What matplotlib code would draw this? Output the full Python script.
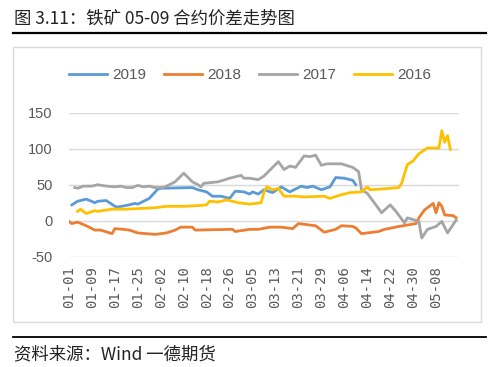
import matplotlib
matplotlib.use('Agg')
import matplotlib.pyplot as plt
from matplotlib.lines import Line2D
from matplotlib.patches import Rectangle

plt.rcParams['font.family'] = ['Noto Sans CJK SC', 'DejaVu Sans']

# ==========================================
# dados (dia = dias desde 01-01, ano bissexto)
# ==========================================
dias_2019 = [1, 3, 6, 9, 10, 13, 16, 17, 21, 23, 24, 27, 28, 31, 32, 43, 45, 48, 50, 53,
             56, 58, 61, 63, 64, 66, 68, 71, 74, 77, 81, 83, 85, 88, 91, 93, 96, 99, 100]
vals_2019 = [22, 27, 30, 25, 27, 28, 20, 19, 22, 24, 23, 29, 31, 44, 45, 46, 43, 40, 34, 34,
             31, 41, 40, 37, 40, 37, 43, 39, 47, 40, 48, 46, 48, 43, 47, 60, 59, 56, 50]

dias_2018 = [0, 1, 3, 6, 9, 11, 15, 16, 19, 21, 24, 30, 34, 37, 39, 43, 44, 57, 58, 63,
             66, 70, 74, 78, 80, 86, 89, 93, 95, 99, 100, 102, 108, 110, 115, 121, 122, 124,
             127, 128, 129, 130, 131, 134, 135]
vals_2018 = [-1, -4, -2, -7, -13, -13, -18, -11, -12, -13, -17, -19, -17, -13, -9, -9, -13, -12, -15, -12,
             -12, -9, -9, -11, -4, -7, -16, -12, -7, -8, -10, -18, -15, -12, -8, -4, 4, 15,
             24, 11, 25, 20, 8, 7, 4]

dias_2017 = [2, 3, 5, 8, 10, 13, 16, 18, 20, 22, 24, 26, 28, 30, 33, 37, 40, 43, 45, 46,
             47, 52, 56, 60, 61, 63, 66, 68, 69, 73, 75, 77, 79, 82, 84, 86, 88, 90, 95, 99,
             101, 102, 104, 107, 109, 112, 114, 117, 118, 122, 123, 125, 128, 130, 132, 135]
vals_2017 = [46, 45, 48, 48, 50, 48, 47, 48, 46, 46, 49, 47, 48, 46, 46, 54, 66, 54, 50, 47,
             52, 54, 59, 63, 59, 59, 57, 62, 66, 82, 71, 76, 74, 90, 89, 91, 77, 79, 79, 74,
             68, 43, 38, 22, 11, 22, 13, -3, 4, -1, -24, -12, -8, -1, -17, 1]

dias_2016 = [3, 4, 6, 9, 10, 15, 20, 25, 30, 34, 40, 45, 48, 49, 52, 55, 59, 63, 65, 67,
             68, 69, 71, 73, 75, 79, 82, 89, 91, 95, 98, 102, 104, 105, 109, 115, 116, 118,
             120, 122, 125, 129, 130, 131, 132, 133]
vals_2016 = [13, 16, 10, 14, 13, 16, 16, 17, 18, 20, 20, 21, 22, 27, 26, 29, 25, 23, 24, 25,
             40, 47, 43, 45, 34, 34, 33, 34, 31, 36, 39, 40, 47, 43, 44, 46, 52, 78,
             83, 93, 101, 101, 125, 109, 118, 99]

rotulos_x = ['01-01', '01-09', '01-17', '01-25', '02-02', '02-10', '02-18', '02-26', '03-05',
             '03-13', '03-21', '03-29', '04-06', '04-14', '04-22', '04-30', '05-08']
ticks_y = [-50, 0, 50, 100, 150]

series = [
    ('2019', dias_2019, vals_2019, '#5B9BD5'),
    ('2018', dias_2018, vals_2018, '#ED7D31'),
    ('2017', dias_2017, vals_2017, '#A5A5A5'),
    ('2016', dias_2016, vals_2016, '#FFC000'),
]

# ==========================================
# figura
# ==========================================
fig = plt.figure(figsize=(5.0, 3.67), dpi=100)
W, H = 500.0, 367.0

def fx(px):
    return px / W

def fy(py):
    return 1 - py / H

# titulo e linhas de moldura
fig.text(fx(14), fy(19), '图 3.11：铁矿 05-09 合约价差走势图', fontsize=12.5,
         color='#222222', va='center', ha='left')
fig.add_artist(Line2D([fx(13), fx(486)], [fy(33), fy(33)], color='black', lw=1.6))
fig.add_artist(Rectangle((fx(13), fy(321.5)), fx(481) - fx(13), fy(46.5) - fy(321.5),
                         fill=False, edgecolor='#D9D9D9', lw=1.0))
fig.add_artist(Line2D([fx(13), fx(486)], [fy(337), fy(337)], color='black', lw=1.3))
fig.text(fx(14), fy(354), '资料来源：Wind 一德期货', fontsize=12.5,
         color='#222222', va='center', ha='left')

ax = fig.add_axes([fx(69), fy(256.7), fx(459) - fx(69), fy(112.7) - fy(256.7)])

for nome, d, v, cor in series:
    ax.plot(d, v, color=cor, lw=2.0, label=nome, solid_joinstyle='round')

ax.set_xlim(0, 136)
ax.set_ylim(-50, 150)
ax.set_yticks(ticks_y)
ax.set_yticklabels([str(t) for t in ticks_y], family='Liberation Sans',
                   fontsize=10.5, color='#595959')
ax.set_xticks(range(0, 8 * len(rotulos_x), 8))
ax.set_xticklabels(rotulos_x, rotation=90, family='DejaVu Sans Mono',
                   fontsize=10, color='#595959')
ax.tick_params(axis='y', length=0, pad=12)
ax.tick_params(axis='x', length=0, pad=7)
ax.grid(axis='y', color='#D9D9D9', lw=1.0)
ax.set_axisbelow(True)
for s in ax.spines.values():
    s.set_visible(False)

leg = fig.legend(loc='center', bbox_to_anchor=(fx(250), fy(75)), ncol=4, frameon=False,
                 handlelength=2.5, handletextpad=0.3, columnspacing=1.2,
                 prop={'family': 'Liberation Sans', 'size': 11})
for t in leg.get_texts():
    t.set_color('#595959')

plt.savefig('out.png', dpi=100)
